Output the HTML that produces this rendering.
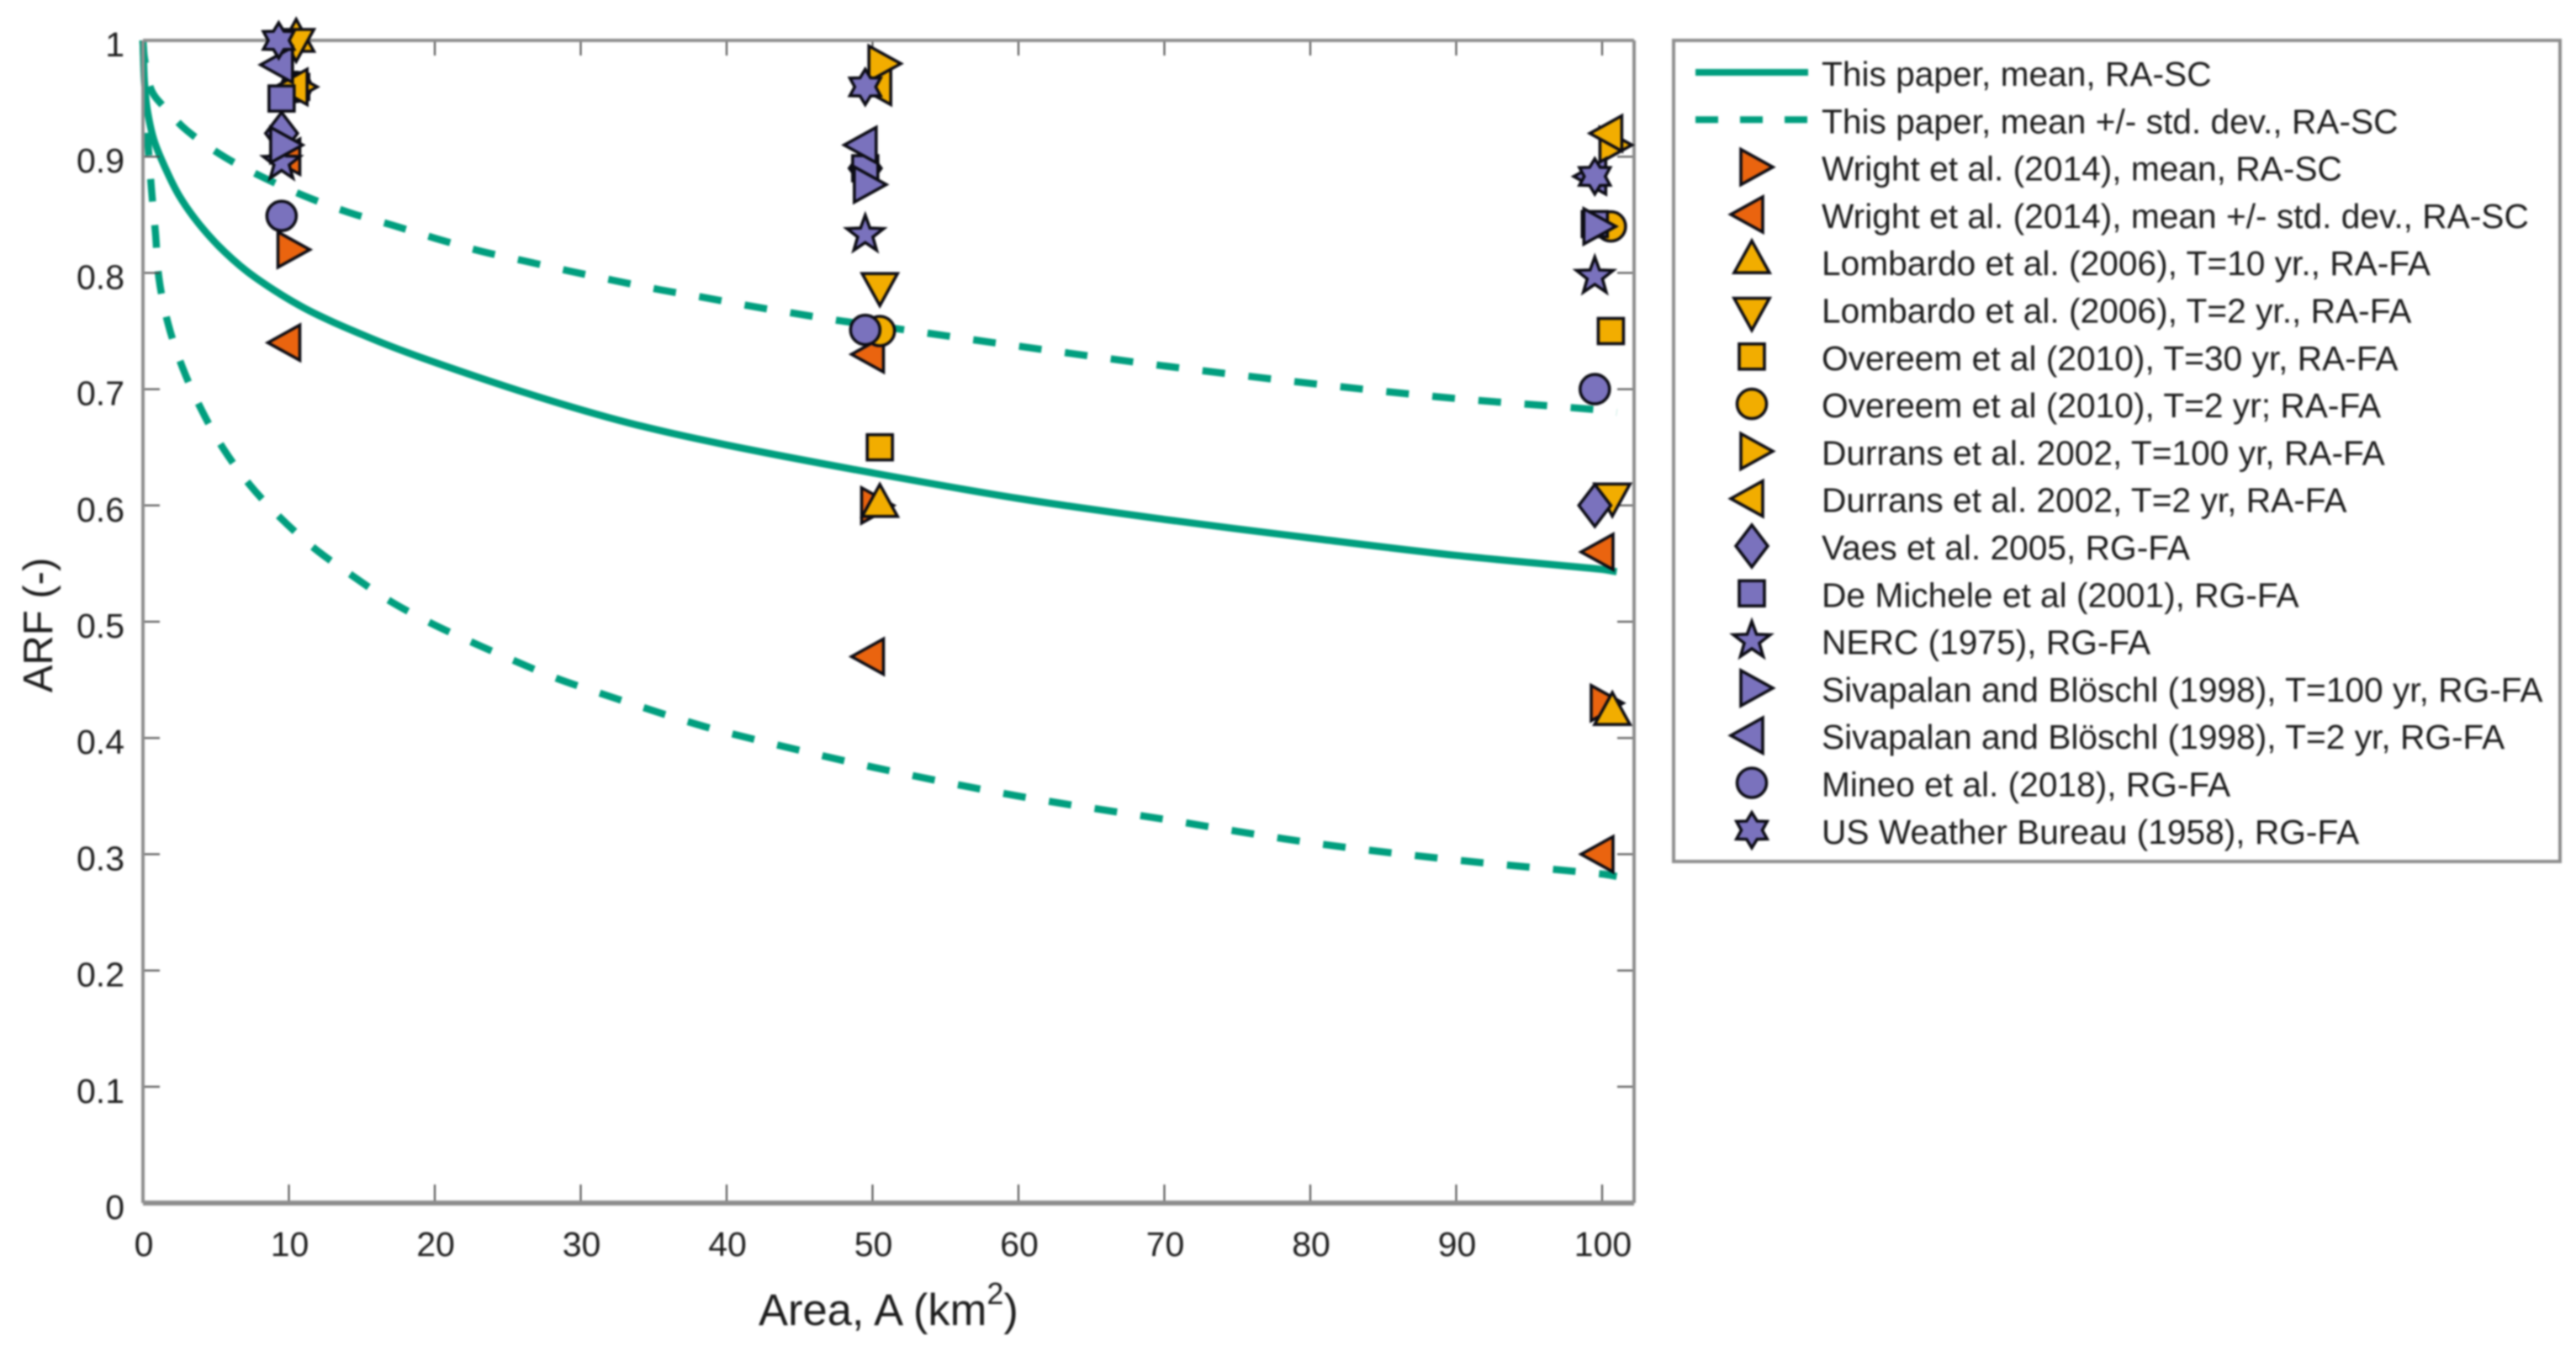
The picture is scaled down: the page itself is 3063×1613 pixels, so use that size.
<!DOCTYPE html>
<html lang="en">
<head>
<meta charset="utf-8">
<title>ARF vs Area</title>
<style>
html,body{margin:0;padding:0;background:#fff;}
#chart{display:block;width:3063px;height:1613px;filter:blur(1px);}
text{font-family:"Liberation Sans",Arial,sans-serif;fill:#1c1c1c;}
</style>
</head>
<body>
<svg id="chart" xmlns="http://www.w3.org/2000/svg" width="3063" height="1613" viewBox="0 0 3063 1613">
<rect x="0" y="0" width="3063" height="1613" fill="#fff"/>
<g id="plot"></g>
<g id="axes"></g>
<text x="62" y="743" transform="rotate(-90 62 743)" text-anchor="middle" font-size="49">ARF (-)</text>
<text x="902" y="1575" font-size="52.5">Area, A (km<tspan font-size="36" dy="-25">2</tspan><tspan dy="25">)</tspan></text>
<g id="legend"></g>
</svg>
<script>
// ---------- axis tick labels ----------
const xTicks = [0,10,20,30,40,50,60,70,80,90,100];
const yTicks = [0,0.1,0.2,0.3,0.4,0.5,0.6,0.7,0.8,0.9,1];
const yTickLabels = ['0','0.1','0.2','0.3','0.4','0.5','0.6','0.7','0.8','0.9','1'];

// ---------- curves ----------
const meanAreas = [0,0.1,0.3,0.76,1.54,2.5,3.85,5.6,7.7,11.1,15.2,19,26.7,33.3,40,50,60,70,80,90,100,101];
const meanValues = [1,0.965,0.94,0.914,0.89,0.866,0.842,0.818,0.796,0.7695,0.746,0.7275,0.695,0.671,0.652,0.628,0.606,0.588,0.572,0.557,0.545,0.543];
const upperAreas = [0,0.1,0.58,1.5,3,5.6,8.35,11.1,14.1,17.1,20.06,23.05,26.1,29.2,32.2,35.3,38.4,41.4,44.5,47.7,50,60,70,80,90,100,101];
const upperValues = [1,0.985,0.957,0.942,0.9226,0.8996,0.8815,0.866,0.852,0.841,0.8297,0.819,0.8104,0.8017,0.7937,0.7858,0.779,0.772,0.7655,0.759,0.755,0.737,0.72,0.705,0.692,0.682,0.68];
const lowerAreas = [0,0.1,0.3,0.58,0.86,1.1,1.73,2.7,3.98,5.5,7.3,9.45,11.76,14.3,16.9,19.7,22.5,25.4,28.2,31.2,34.1,37.1,39.9,50,60,70,80,90,100,101];
const lowerValues = [1,0.97,0.92,0.872,0.834,0.795,0.756,0.719,0.683,0.649,0.618,0.589,0.563,0.54,0.518,0.499,0.4826,0.4667,0.452,0.439,0.427,0.415,0.405,0.375,0.35,0.33,0.31,0.295,0.283,0.281];

// ---------- marker series ----------
const wrightMeanAreas = [10,50,100];
const wrightMeanValues = [0.82,0.60,0.43];
const wrightStdAreas = [10,10,50,50,100,100];
const wrightStdValues = [0.74,0.90,0.47,0.73,0.30,0.56];
const lombardo10Areas = [10.5,50.5,100.7];
const lombardo10Values = [1.0,0.60,0.421];
const lombardo2Areas = [10.5,50.5,100.7];
const lombardo2Values = [1.0,0.79,0.609];
const overeem30Areas = [10.5,50.5,100.6];
const overeem30Values = [0.96,0.65,0.75];
const overeem2Areas = [10.5,50.5,100.6];
const overeem2Values = [0.96,0.75,0.84];
const durrans100Areas = [10.5,50.5,100.6];
const durrans100Values = [0.96,0.98,0.91];
const durrans2Areas = [10.5,50.5,100.6];
const durrans2Values = [0.96,0.96,0.92];
const vaesAreas = [9.5,49.5,99.5];
const vaesValues = [0.92,0.89,0.60];
const deMicheleAreas = [9.5,49.5,99.5];
const deMicheleValues = [0.95,0.89,0.842];
const nercAreas = [9.5,49.5,99.5];
const nercValues = [0.895,0.833,0.797];
const sivapalan100Areas = [9.5,49.5,99.5];
const sivapalan100Values = [0.91,0.876,0.84];
const sivapalan2Areas = [9.5,49.5,99.5];
const sivapalan2Values = [0.979,0.91,0.883];
const mineoAreas = [9.5,49.5,99.5];
const mineoValues = [0.849,0.751,0.70];
const usWeatherAreas = [9.3,49.5,99.5];
const usWeatherValues = [1.0,0.96,0.883];

// ---------- legend labels ----------
const curveLabels = ['This paper, mean, RA-SC','This paper, mean +/- std. dev., RA-SC'];
const markerLabels = [
 'Wright et al. (2014), mean, RA-SC','Wright et al. (2014), mean +/- std. dev., RA-SC',
 'Lombardo et al. (2006), T=10 yr., RA-FA','Lombardo et al. (2006), T=2 yr., RA-FA',
 'Overeem et al (2010), T=30 yr, RA-FA','Overeem et al (2010), T=2 yr; RA-FA',
 'Durrans et al. 2002, T=100 yr, RA-FA','Durrans et al. 2002, T=2 yr, RA-FA',
 'Vaes et al. 2005, RG-FA','De Michele et al (2001), RG-FA','NERC (1975), RG-FA',
 'Sivapalan and Blöschl (1998), T=100 yr, RG-FA','Sivapalan and Blöschl (1998), T=2 yr, RG-FA',
 'Mineo et al. (2018), RG-FA','US Weather Bureau (1958), RG-FA'];

const TEAL='#009e7e', ORANGE='#ea640f', YELLOW='#f2ad00', PURPLE='#7a72bd', EDGE='#0c0c14', AXIS='#8e8e8e';

const seriesList = [
 {key:'wright-mean',areas:wrightMeanAreas,values:wrightMeanValues,shape:'right',fill:ORANGE},
 {key:'wright-std',areas:wrightStdAreas,values:wrightStdValues,shape:'left',fill:ORANGE},
 {key:'lombardo-t10',areas:lombardo10Areas,values:lombardo10Values,shape:'up',fill:YELLOW},
 {key:'lombardo-t2',areas:lombardo2Areas,values:lombardo2Values,shape:'down',fill:YELLOW},
 {key:'overeem-t30',areas:overeem30Areas,values:overeem30Values,shape:'square',fill:YELLOW},
 {key:'overeem-t2',areas:overeem2Areas,values:overeem2Values,shape:'circle',fill:YELLOW},
 {key:'durrans-t100',areas:durrans100Areas,values:durrans100Values,shape:'right',fill:YELLOW},
 {key:'durrans-t2',areas:durrans2Areas,values:durrans2Values,shape:'left',fill:YELLOW},
 {key:'vaes',areas:vaesAreas,values:vaesValues,shape:'diamond',fill:PURPLE},
 {key:'de-michele',areas:deMicheleAreas,values:deMicheleValues,shape:'square',fill:PURPLE},
 {key:'nerc',areas:nercAreas,values:nercValues,shape:'star',fill:PURPLE},
 {key:'sivapalan-t100',areas:sivapalan100Areas,values:sivapalan100Values,shape:'right',fill:PURPLE},
 {key:'sivapalan-t2',areas:sivapalan2Areas,values:sivapalan2Values,shape:'left',fill:PURPLE},
 {key:'mineo',areas:mineoAreas,values:mineoValues,shape:'circle',fill:PURPLE},
 {key:'us-weather-bureau',areas:usWeatherAreas,values:usWeatherValues,shape:'hexagram',fill:PURPLE}
];

// ---------- axis functions ----------
const X0=170, XPER=17.35, Y0=1430, YSPAN=1382;
function sx(a){return X0+a*XPER;}
function sy(v){return Y0-v*YSPAN;}

const NS='http://www.w3.org/2000/svg';
function mk(tag,attrs,parent){
  const e=document.createElementNS(NS,tag);
  for(const k in attrs){e.setAttribute(k,attrs[k]);}
  parent.appendChild(e);
  return e;
}
function starPts(cx,cy,n,ro,ri){
  const p=[];
  for(let i=0;i<n*2;i++){
    const r=i%2?ri:ro, t=-Math.PI/2+i*Math.PI/n;
    p.push((cx+r*Math.cos(t)).toFixed(1)+','+(cy+r*Math.sin(t)).toFixed(1));
  }
  return p.join(' ');
}
function drawMarker(shape,cx,cy,fill,parent){
  const st={fill:fill,stroke:EDGE,'stroke-width':3.6,'stroke-linejoin':'miter'};
  const poly=pts=>mk('polygon',Object.assign({points:pts},st),parent);
  if(shape==='right')return poly(`${cx-13},${cy-21} ${cx+25},${cy} ${cx-13},${cy+21}`);
  if(shape==='left')return poly(`${cx+13},${cy-21} ${cx-25},${cy} ${cx+13},${cy+21}`);
  if(shape==='up')return poly(`${cx-21},${cy+13} ${cx},${cy-25} ${cx+21},${cy+13}`);
  if(shape==='down')return poly(`${cx-21},${cy-13} ${cx},${cy+25} ${cx+21},${cy-13}`);
  if(shape==='square')return mk('rect',Object.assign({x:cx-15,y:cy-15,width:30,height:30},st),parent);
  if(shape==='circle')return mk('circle',Object.assign({cx:cx,cy:cy,r:17.5},st),parent);
  if(shape==='diamond')return poly(`${cx},${cy-25} ${cx+19},${cy} ${cx},${cy+25} ${cx-19},${cy}`);
  if(shape==='star')return poly(starPts(cx,cy,5,23,9.5));
  return poly(starPts(cx,cy,6,21,12.5));
}

// ---------- axes ----------
const axes=document.getElementById('axes');
const plot=document.getElementById('plot');
const XR=1943, YT=48, TL=20;

yTicks.forEach((v,i)=>{
  const y=sy(v);
  const t1=mk('line',{x1:X0,y1:y,x2:X0+TL,y2:y,stroke:'#4a4a4a','stroke-width':2},axes);
  
  
  const t2=mk('line',{x1:XR-TL,y1:y,x2:XR,y2:y,stroke:'#4a4a4a','stroke-width':2},axes);
  
  
  const lb=mk('text',{x:148,y:y+19,'text-anchor':'end','font-size':41},axes);
  lb.textContent=yTickLabels[i];
  
  
});
xTicks.forEach(a=>{
  const x=sx(a);
  const t1=mk('line',{x1:x,y1:Y0,x2:x,y2:Y0-22,stroke:'#4a4a4a','stroke-width':2},axes);
  
  
  const t2=mk('line',{x1:x,y1:YT,x2:x,y2:YT+18,stroke:'#4a4a4a','stroke-width':2},axes);
  
  
  const lb=mk('text',{x:x+1,y:1493,'text-anchor':'middle','font-size':41},axes);
  lb.textContent=String(a);
  
  
});
const frame=[[X0,YT,XR,YT,4],[X0,YT,X0,Y0,4],[XR,YT,XR,Y0,4],[X0,Y0,XR,Y0,6]];
frame.forEach(f=>{
  const l=mk('line',{x1:f[0],y1:f[1],x2:f[2],y2:f[3],stroke:AXIS,'stroke-width':f[4]},axes);
  
  
});

// ---------- curves (smooth path through the read points) ----------
function unit(a,b){
  const dx=b[0]-a[0],dy=b[1]-a[1],n=Math.hypot(dx,dy)||1;
  return [dx/n,dy/n];
}
function smoothPath(areas,values){
  const p=areas.map((a,i)=>[sx(a),sy(values[i])]);
  let d='M'+p[0][0].toFixed(1)+' '+p[0][1].toFixed(1);
  for(let i=0;i<p.length-1;i++){
    const p0=p[Math.max(i-1,0)],p1=p[i],p2=p[i+1],p3=p[Math.min(i+2,p.length-1)];
    const len=Math.hypot(p2[0]-p1[0],p2[1]-p1[1])/3;
    const t1=unit(p0,p2),t2=unit(p1,p3);
    const c1=[p1[0]+t1[0]*len,p1[1]+t1[1]*len];
    const c2=[p2[0]-t2[0]*len,p2[1]-t2[1]*len];
    d+=' C'+c1[0].toFixed(1)+' '+c1[1].toFixed(1)+' '+c2[0].toFixed(1)+' '+c2[1].toFixed(1)+' '+p2[0].toFixed(1)+' '+p2[1].toFixed(1);
  }
  return d;
}
function drawCurve(areas,values,dash,name){
  const attrs={d:smoothPath(areas,values),fill:'none',stroke:TEAL,'stroke-width':8.5,'stroke-linejoin':'round'};
  if(dash)attrs['stroke-dasharray']=dash;
  const c=mk('path',attrs,plot);
  
  
}
drawCurve(upperAreas,upperValues,'27 28','curve-mean-plus-std');
drawCurve(lowerAreas,lowerValues,'27 28','curve-mean-minus-std');
drawCurve(meanAreas,meanValues,null,'curve-mean');

// ---------- markers ----------
const markerLayer=mk('g',{},document.getElementById('chart'));


seriesList.forEach(s=>{
  s.areas.forEach((a,i)=>{
    const m=drawMarker(s.shape,sx(a),sy(s.values[i]),s.fill,markerLayer);
    
    
  });
});

// ---------- legend ----------
const legend=document.getElementById('legend');
document.getElementById('chart').appendChild(legend);
const box=mk('rect',{x:1990,y:48,width:1054,height:976,fill:'#fff',stroke:AXIS,'stroke-width':4},legend);


const ROW=56.3, TEXTBASE=102, MARKBASE=86;
function legendText(str,i){
  const t=mk('text',{x:2166,y:TEXTBASE+i*ROW,'font-size':40.7},legend);
  t.textContent=str;
  
  
}
curveLabels.forEach((lab,i)=>{
  const attrs={x1:2016,x2:2150,y1:MARKBASE+i*ROW,y2:MARKBASE+i*ROW,stroke:TEAL,'stroke-width':8};
  if(i===1)attrs['stroke-dasharray']='27 26';
  const l=mk('line',attrs,legend);
  
  
  legendText(lab,i);
});
markerLabels.forEach((lab,i)=>{
  const row=i+2;
  const s=seriesList[i];
  const m=drawMarker(s.shape,2083,MARKBASE+row*ROW,s.fill,legend);
  
  
  legendText(lab,row);
});
</script>
</body>
</html>
